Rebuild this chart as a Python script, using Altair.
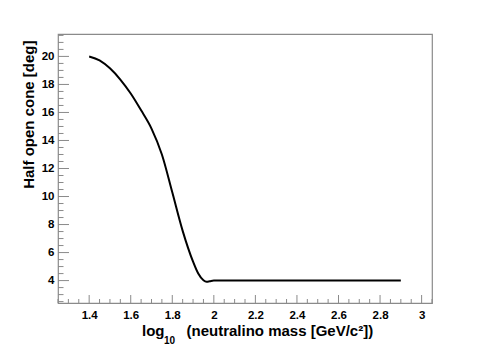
import altair as alt
import pandas as pd

# Curve data
log_mass = [1.40, 1.45, 1.50, 1.55, 1.60, 1.65, 1.70, 1.75, 1.80, 1.85, 1.90,
            1.925, 1.95, 1.965, 1.98, 2.00, 2.20, 2.40, 2.60, 2.80, 2.90]
half_cone = [20.0, 19.72, 19.15, 18.35, 17.35, 16.15, 14.85, 13.0, 10.3, 7.55, 5.35,
             4.5, 4.02, 3.92, 3.95, 4.0, 4.0, 4.0, 4.0, 4.0, 4.0]

# Axis ticks
x_major = [1.4, 1.6, 1.8, 2.0, 2.2, 2.4, 2.6, 2.8, 3.0]
y_major = [4, 6, 8, 10, 12, 14, 16, 18, 20]
x_minor = [round(1.25 + 0.05 * i, 2) for i in range(37)]
x_minor = [v for v in x_minor if all(abs(v - m) > 1e-6 for m in x_major)]
y_minor = [2.5 + 0.5 * i for i in range(39)]
y_minor = [v for v in y_minor if all(abs(v - m) > 1e-6 for m in y_major)]

x_domain = [1.25, 3.05]
y_domain = [2.4, 21.6]

# Title pieces
x_title_main = "log"
x_title_sub = "10"
x_title_rest = "(neutralino mass [GeV/c²])"
y_title = "Half open cone [deg]"

W, H = 374, 269
FONT = "Liberation Sans"
GRAY = "#8a8a8a"

xs = alt.Scale(domain=x_domain, nice=False, zero=False)
ys = alt.Scale(domain=y_domain, nice=False, zero=False)

x_axis = alt.Axis(values=x_major, format=".1~f", ticks=False, domain=False, grid=False,
                  labelFont=FONT, labelFontWeight="bold", labelFontSize=11.5,
                  labelColor="black", labelPadding=6, labelOverlap=False,
                  title=None)
y_axis = alt.Axis(values=y_major, format="d", ticks=False, domain=False, grid=False,
                  labelFont=FONT, labelFontWeight="bold", labelFontSize=11.5,
                  labelColor="black", labelPadding=4, labelOverlap=False,
                  title=y_title,
                  titleFont=FONT, titleFontWeight="bold", titleFontSize=15,
                  titleColor="black", titleAngle=270, titleAlign="right",
                  titleBaseline="alphabetic", titleX=-25, titleY=6)

df = pd.DataFrame({"x": log_mass, "y": half_cone})

line = alt.Chart(df).mark_line(color="black", strokeWidth=2, interpolate="monotone").encode(
    x=alt.X("x:Q", scale=xs, axis=x_axis),
    y=alt.Y("y:Q", scale=ys, axis=y_axis),
)

xmaj = alt.Chart(pd.DataFrame({"x": x_major})).mark_rule(color=GRAY, strokeWidth=1).encode(
    x=alt.X("x:Q", scale=xs, axis=x_axis), y=alt.value(H), y2=alt.value(H - 8))
xmin_ = alt.Chart(pd.DataFrame({"x": x_minor})).mark_rule(color=GRAY, strokeWidth=1).encode(
    x=alt.X("x:Q", scale=xs, axis=x_axis), y=alt.value(H), y2=alt.value(H - 4))
ymaj = alt.Chart(pd.DataFrame({"y": y_major})).mark_rule(color=GRAY, strokeWidth=1).encode(
    y=alt.Y("y:Q", scale=ys, axis=y_axis), x=alt.value(0), x2=alt.value(11))
ymin_ = alt.Chart(pd.DataFrame({"y": y_minor})).mark_rule(color=GRAY, strokeWidth=1).encode(
    y=alt.Y("y:Q", scale=ys, axis=y_axis), x=alt.value(0), x2=alt.value(5.5))

base_txt = alt.Chart(pd.DataFrame({"a": [0]}))
t_main = base_txt.mark_text(align="left", baseline="alphabetic", font=FONT, fontWeight="bold",
                            fontSize=15, color="black").encode(
    x=alt.value(84), y=alt.value(302), text=alt.value(x_title_main))
t_sub = base_txt.mark_text(align="left", baseline="alphabetic", font=FONT, fontWeight="bold",
                           fontSize=10, color="black").encode(
    x=alt.value(106), y=alt.value(310), text=alt.value(x_title_sub))
t_rest = base_txt.mark_text(align="left", baseline="alphabetic", font=FONT, fontWeight="bold",
                            fontSize=15, color="black").encode(
    x=alt.value(128.5), y=alt.value(302), text=alt.value(x_title_rest))

chart = alt.layer(line, xmaj, xmin_, ymaj, ymin_, t_main, t_sub, t_rest).properties(
    width=W, height=H,
    autosize=alt.AutoSizeParams(type="none"),
    padding={"left": 50, "top": 26, "right": 40, "bottom": 43},
    background="white",
).configure_view(stroke=GRAY, strokeWidth=1.2)

chart.save("out.html", embed_options={"renderer": "svg", "actions": False})
